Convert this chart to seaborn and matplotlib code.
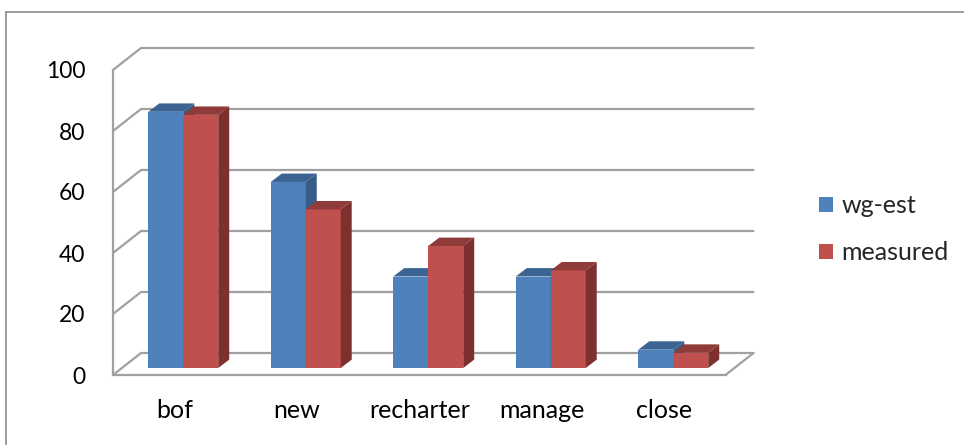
import matplotlib
matplotlib.use("Agg")
import matplotlib.pyplot as plt
import matplotlib.transforms as mtransforms
from matplotlib.patches import Polygon, Patch
from matplotlib.lines import Line2D
import pandas as pd
import seaborn as sns

# Chart data
stages = ["bof", "new", "recharter", "manage", "close"]
wg_est = [84, 61, 30, 30, 6]
measured = [83, 52, 40, 32, 5]
series_names = ["wg-est", "measured"]
y_ticks = [0, 20, 40, 60, 80, 100]

sns.set_style("white")
plt.rcParams["font.family"] = ["Lato", "DejaVu Sans"]

FRONT = {"wg-est": "#4F81BD", "measured": "#C0504D"}
TOP = {"wg-est": "#3B6493", "measured": "#8F3B39"}
SIDE = {"wg-est": "#375C88", "measured": "#7E302E"}
GRID = "#A0A0A0"

W, H, DPI = 964, 445, 100
fig = plt.figure(figsize=(W / DPI, H / DPI), dpi=DPI)
# axes spans the front plane of the 3-D box
ax = fig.add_axes([113 / W, (H - 375) / H, (725.5 - 113) / W, (375 - 70) / H])
ax.set_xlim(-0.5, len(stages) - 0.5)
ax.set_ylim(0, 100)

df = pd.DataFrame({
    "stage": stages * 2,
    "value": wg_est + measured,
    "series": [series_names[0]] * len(stages) + [series_names[1]] * len(stages),
})
sns.barplot(data=df, x="stage", y="value", hue="series", order=stages,
            hue_order=series_names, palette=[FRONT[s] for s in series_names],
            width=0.571, gap=0, saturation=1, errorbar=None, legend=False, ax=ax)
ax.set_xlim(-0.5, len(stages) - 0.5)
ax.set_ylim(0, 100)
ax.set_xlabel("")
ax.set_ylabel("")

ident = mtransforms.IdentityTransform()


def shift(dx, dy):
    return mtransforms.ScaledTranslation(dx / fig.dpi, dy / fig.dpi, fig.dpi_scale_trans)


WALL_DX, WALL_DY = 28, 22      # depth of the box in pixels
BAR_DX, BAR_DY = 9, 7          # bars' front face position in depth
DEP_DX, DEP_DY = 11, 8.4       # bar depth

bar_trans = ax.transData + shift(BAR_DX, BAR_DY)

# 3-D bars: shifted front faces plus top and side faces
for ci, (name, cont) in enumerate(zip(series_names, ax.containers)):
    z = 3 + ci * 0.2
    for bar in cont:
        bar.set_transform(bar_trans)
        bar.set_clip_on(False)
        bar.set_edgecolor("none")
        bar.set_zorder(z)
        x0, w, h = bar.get_x(), bar.get_width(), bar.get_height()
        (px0, py0) = bar_trans.transform((x0, 0))
        (px1, pyh) = bar_trans.transform((x0 + w, h))
        top = [(px0, pyh), (px1, pyh), (px1 + DEP_DX, pyh + DEP_DY), (px0 + DEP_DX, pyh + DEP_DY)]
        side = [(px1, py0), (px1, pyh), (px1 + DEP_DX, pyh + DEP_DY), (px1 + DEP_DX, py0 + DEP_DY)]
        ax.add_patch(Polygon(top, closed=True, facecolor=TOP[name], edgecolor="none",
                             transform=ident, clip_on=False, zorder=z + 0.1))
        ax.add_patch(Polygon(side, closed=True, facecolor=SIDE[name], edgecolor="none",
                             transform=ident, clip_on=False, zorder=z + 0.1))

# back-wall gridlines with their diagonal on the side wall
x_lo, x_hi = -0.5, len(stages) - 0.5
for v in y_ticks:
    fx, fy = ax.transData.transform((x_lo, v))
    ex, _ = ax.transData.transform((x_hi, v))
    xs = [fx, fx + WALL_DX, ex + WALL_DX]
    ys = [fy, fy + WALL_DY, fy + WALL_DY]
    ax.add_line(Line2D(xs, ys, color=GRID, lw=1.6, transform=ident, clip_on=False, zorder=1))

# right edge of the floor
fx, fy = ax.transData.transform((x_hi, 0))
ax.add_line(Line2D([fx, fx + WALL_DX], [fy, fy + WALL_DY], color=GRID, lw=1.6,
                   transform=ident, clip_on=False, zorder=1))

# axes styling
for s in ["top", "right"]:
    ax.spines[s].set_visible(False)
for s in ["left", "bottom"]:
    ax.spines[s].set_color(GRID)
    ax.spines[s].set_linewidth(1.6)
    ax.spines[s].set_zorder(1.5)

ax.set_yticks(y_ticks)
ax.set_yticklabels([str(t) for t in y_ticks])
ax.set_xticks(range(len(stages)))
ax.set_xticklabels(stages)
ax.set_xticks([i - 0.5 for i in range(len(stages) + 1)], minor=True)
ax.tick_params(axis="y", length=4.5, width=1.6, color=GRID, pad=15.5,
               labelsize=16.5, labelcolor="black")
ax.tick_params(axis="x", which="major", length=0, pad=17, labelsize=18, labelcolor="black")
ax.tick_params(axis="x", which="minor", length=5, width=1.6, color=GRID)
ax.grid(False)

# legend
handles = [Patch(facecolor=FRONT[s], edgecolor="none") for s in series_names]
fig.legend(handles, series_names, loc="center left",
           bbox_to_anchor=(819 / W, 1 - 229 / H), frameon=False, fontsize=18,
           handlelength=0.55, handleheight=0.55, handletextpad=0.35, labelspacing=0.95,
           borderpad=0, borderaxespad=0)

# chart-area border
fig.add_artist(Line2D([5.5, 5.5], [-5, H - 11.5], color="#8C8C8C", lw=1.2, transform=ident))
fig.add_artist(Line2D([5.5, W + 5], [H - 11.5, H - 11.5], color="#8C8C8C", lw=1.2, transform=ident))

fig.savefig("out.png", dpi=DPI)
